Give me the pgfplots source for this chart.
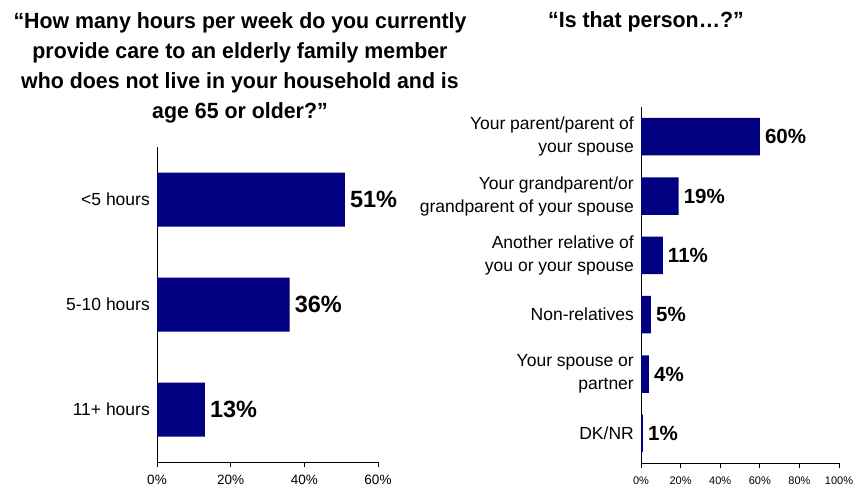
\documentclass[border=0pt]{standalone}
\usepackage{fontspec}
\setmainfont{Liberation Sans}
\newfontfamily\titlefont[FakeStretch=0.97]{Liberation Sans}
\usepackage{pgfplots}
\pgfplotsset{compat=1.18}
\definecolor{barblue}{RGB}{0,0,128}
\begin{document}
\begin{tikzpicture}
\path[use as bounding box] (0,0) rectangle (859bp,489bp);
\node[align=center, inner sep=0pt, anchor=north,
      font=\titlefont\bfseries\fontsize{22bp}{30bp}\selectfont]
  at (240bp,476.5bp) {“How many hours per week do you currently\\provide care to an elderly family member\\who does not live in your household and is\\age 65 or older?”};
\node[align=center, inner sep=0pt, anchor=north,
      font=\titlefont\bfseries\fontsize{22bp}{30bp}\selectfont]
  at (646bp,477.5bp) {“Is that person…?”};

\pgfplotsset{
  mybars/.style={
    scale only axis, anchor=south west,
    xbar, point meta=x,
    y dir=reverse,
    axis x line*=bottom, axis y line*=left,
    axis line style={black, line width=0.8bp},
    tick style={black, line width=0.8bp},
    tick align=outside,
    major tick length=5bp,
    y tick style={draw=none},
    /pgf/number format/assume math mode=true,
    xticklabel={\pgfmathprintnumber{\tick}\%},
    xticklabel style={yshift=-5bp},
    yticklabel style={align=right, inner sep=0pt, xshift=-2bp},
    nodes near coords={\pgfmathprintnumber{\pgfplotspointmeta}\%},
    nodes near coords align=horizontal,
    every node near coord/.append style={anchor=west, inner sep=0pt, xshift=5bp, text=black},
  }
}

\begin{axis}[mybars,
  at={(157bp,27bp)}, width=221bp, height=315bp,
  bar width=54bp,
  xmin=0, xmax=60, ymin=-0.5, ymax=2.5,
  xtick={0,20,40,60},
  ytick={0,1,2},
  yticklabels={{<5 hours},{5-10 hours},{11+ hours}},
  xticklabel style={font=\fontsize{13.5bp}{16bp}\selectfont},
  yticklabel style={font=\fontsize{17.5bp}{23bp}\selectfont},
  every node near coord/.append style={font=\bfseries\fontsize{23.5bp}{28bp}\selectfont},
]
\addplot[fill=barblue, draw=none] coordinates {(51,0) (36,1) (13,2)};
\end{axis}

\begin{axis}[mybars,
  at={(641bp,26bp)}, width=198bp, height=356bp,
  bar width=37.5bp,
  xmin=0, xmax=100, ymin=-0.5, ymax=5.5,
  xtick={0,20,40,60,80,100},
  ytick={0,1,2,3,4,5},
  yticklabels={{Your parent/parent of\\your spouse},{Your grandparent/or\\grandparent of your spouse},{Another relative of\\you or your spouse},{Non-relatives},{Your spouse or\\partner},{DK/NR}},
  xticklabel style={font=\fontsize{11bp}{13bp}\selectfont},
  yticklabel style={font=\fontsize{17.5bp}{23bp}\selectfont},
  every node near coord/.append style={font=\bfseries\fontsize{20.5bp}{24bp}\selectfont},
]
\addplot[fill=barblue, draw=none] coordinates {(60,0) (19,1) (11,2) (5,3) (4,4) (1,5)};
\end{axis}
\end{tikzpicture}
\end{document}
